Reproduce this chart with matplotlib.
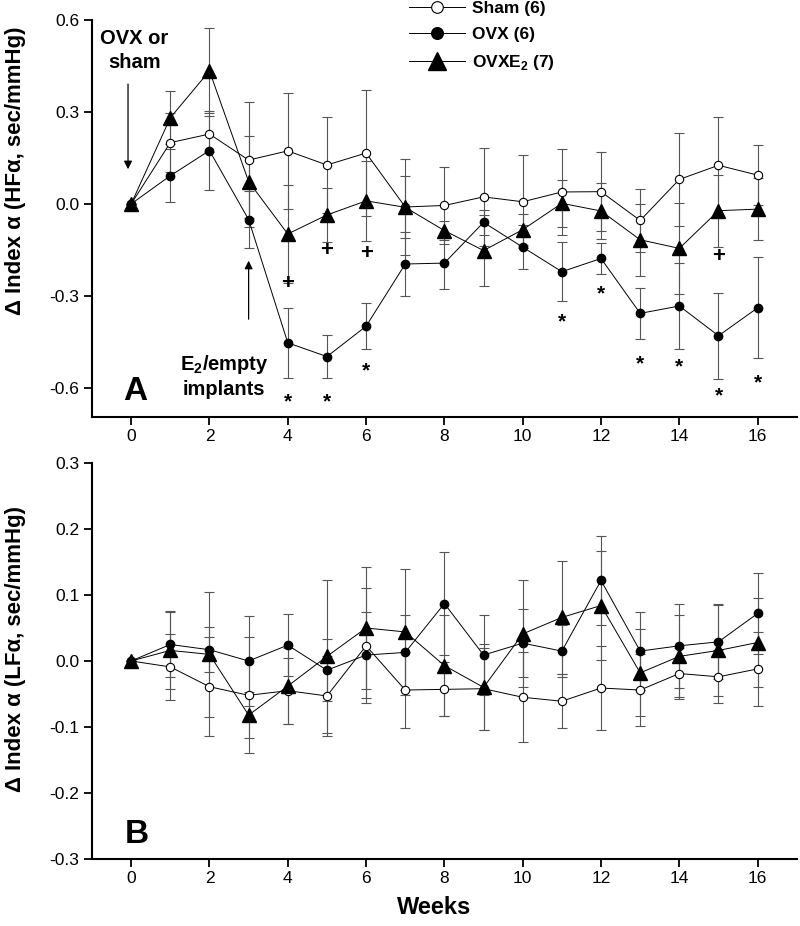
import numpy as np
import matplotlib
matplotlib.use("Agg")
import matplotlib.pyplot as plt

plt.rcParams["font.family"] = ["Liberation Sans", "DejaVu Sans"]
plt.rcParams["axes.unicode_minus"] = False

weeks = np.arange(17)

# panel A: HF alpha
sham_hf = [0, 0.20, 0.228, 0.143, 0.173, 0.127, 0.166, -0.01, -0.005, 0.023, 0.007, 0.039, 0.04, -0.054, 0.08, 0.126, 0.094]
sham_hf_se = [0, 0.095, 0.06, 0.19, 0.19, 0.157, 0.205, 0.1, 0.127, 0.16, 0.152, 0.139, 0.128, 0.104, 0.153, 0.158, 0.098]
ovx_hf = [0, 0.092, 0.174, -0.051, -0.453, -0.498, -0.399, -0.196, -0.193, -0.06, -0.141, -0.221, -0.178, -0.357, -0.333, -0.43, -0.339]
ovx_hf_se = [0, 0.087, 0.13, 0.094, 0.115, 0.07, 0.075, 0.105, 0.083, 0.04, 0.072, 0.097, 0.05, 0.083, 0.14, 0.14, 0.165]
e2_hf = [0, 0.281, 0.434, 0.073, -0.098, -0.036, 0.01, -0.011, -0.087, -0.152, -0.084, 0.002, -0.023, -0.117, -0.145, -0.022, -0.017]
e2_hf_se = [0, 0.086, 0.139, 0.148, 0.16, 0.087, 0.13, 0.156, 0.03, 0.115, 0.05, 0.076, 0.09, 0.118, 0.148, 0.117, 0.1]

# panel B: LF alpha
sham_lf = [0, -0.009, -0.039, -0.052, -0.045, -0.053, 0.023, -0.044, -0.043, -0.042, -0.055, -0.061, -0.041, -0.044, -0.019, -0.024, -0.012]
sham_lf_se = [0, 0.05, 0.075, 0.088, 0.05, 0.06, 0.087, 0.058, 0.041, 0.062, 0.068, 0.041, 0.064, 0.054, 0.039, 0.04, 0.056]
ovx_lf = [0, 0.025, 0.017, 0.0, 0.024, -0.014, 0.009, 0.013, 0.087, 0.009, 0.027, 0.015, 0.122, 0.015, 0.023, 0.029, 0.072]
ovx_lf_se = [0, 0.05, 0.034, 0.068, 0.047, 0.047, 0.065, 0.057, 0.078, 0.06, 0.052, 0.04, 0.067, 0.059, 0.064, 0.057, 0.062]
e2_lf = [0, 0.016, 0.01, -0.082, -0.038, 0.007, 0.05, 0.044, -0.007, -0.04, 0.041, 0.066, 0.084, -0.018, 0.007, 0.016, 0.028]
e2_lf_se = [0, 0.058, 0.095, 0.035, 0.058, 0.116, 0.093, 0.095, 0.077, 0.065, 0.081, 0.086, 0.083, 0.066, 0.062, 0.069, 0.067]

# significance marks in panel A
star_weeks = [4, 5, 6, 11, 12, 13, 14, 15, 16]
star_y = [-0.62, -0.62, -0.52, -0.36, -0.267, -0.496, -0.506, -0.6, -0.558]
plus_weeks = [4, 5, 6, 15]
plus_y = [-0.261, -0.153, -0.163, -0.17]

labels = ["Sham (6)", "OVX (6)", r"OVXE$_\mathregular{2}$ (7)"]

fig = plt.figure(figsize=(8, 9.26), dpi=100)
axA = fig.add_axes([0.115, 0.5497, 0.881, 0.4287])
axB = fig.add_axes([0.115, 0.0724, 0.881, 0.4276])


def draw(ax, sham, sham_se, ovx, ovx_se, e2, e2_se):
    eb = dict(ecolor="#555555", elinewidth=0.8, capsize=3.5, capthick=0.8, zorder=1)
    ax.errorbar(weeks, sham, yerr=sham_se, fmt="none", **eb)
    ax.errorbar(weeks, ovx, yerr=ovx_se, fmt="none", **eb)
    ax.errorbar(weeks, e2, yerr=e2_se, fmt="none", **eb)
    h1, = ax.plot(weeks, sham, "-o", color="black", lw=0.7, ms=6, mfc="white", mec="black", mew=0.8, zorder=3)
    h2, = ax.plot(weeks, ovx, "-o", color="black", lw=0.7, ms=6, mfc="black", mec="black", zorder=4)
    h3, = ax.plot(weeks, e2, "-^", color="black", lw=0.7, ms=9.5, mfc="black", mec="black", zorder=5)
    ax.spines["top"].set_visible(False)
    ax.spines["right"].set_visible(False)
    for s in ["left", "bottom"]:
        ax.spines[s].set_linewidth(1.5)
    ax.tick_params(direction="out", length=6, width=1.3, labelsize=12.5, pad=3)
    ax.set_xlim(-1, 17)
    ax.set_xticks(range(0, 17, 2))
    return [h1, h2, h3]


handles = draw(axA, sham_hf, sham_hf_se, ovx_hf, ovx_hf_se, e2_hf, e2_hf_se)
draw(axB, sham_lf, sham_lf_se, ovx_lf, ovx_lf_se, e2_lf, e2_lf_se)

axA.set_ylim(-0.695, 0.6)
axA.set_yticks([-0.6, -0.3, 0.0, 0.3, 0.6])
axA.set_yticklabels(["-0.6", "-0.3", "0.0", "0.3", "0.6"])
axB.set_ylim(-0.3, 0.3)
axB.set_yticks([-0.3, -0.2, -0.1, 0.0, 0.1, 0.2, 0.3])
axB.set_yticklabels(["-0.3", "-0.2", "-0.1", "0.0", "0.1", "0.2", "0.3"])

axA.set_ylabel("Δ Index α (HFα, sec/mmHg)", fontsize=16, fontweight="bold")
axA.yaxis.set_label_coords(-0.093, 0.62)
axB.set_ylabel("Δ Index α (LFα, sec/mmHg)", fontsize=16, fontweight="bold")
axB.yaxis.set_label_coords(-0.093, 0.53)
fig.text(0.543, 0.008, "Weeks", fontsize=17, fontweight="bold", ha="center", va="bottom")

axA.text(0.061, 0.063, "A", transform=axA.transAxes, fontsize=24, fontweight="bold", ha="center", va="center")
axB.text(0.063, 0.063, "B", transform=axB.transAxes, fontsize=24, fontweight="bold", ha="center", va="center")

for w, y in zip(star_weeks, star_y):
    axA.text(w, y - 0.025, "*", fontsize=15, fontweight="bold", ha="center", va="center")
for w, y in zip(plus_weeks, plus_y):
    axA.text(w, y, "+", fontsize=16, fontweight="bold", ha="center", va="center")

axA.text(0.08, 0.5, "OVX or\nsham", fontsize=14.5, fontweight="bold", ha="center", va="center", linespacing=1.3)
axA.annotate("", xy=(-0.08, 0.104), xytext=(-0.08, 0.4),
             arrowprops=dict(arrowstyle="-|>", color="black", lw=0.9, mutation_scale=12))
axA.text(2.38, -0.562, "E$_\\mathregular{2}$/empty\nimplants", fontsize=14.5, fontweight="bold",
         ha="center", va="center", linespacing=1.3)
axA.annotate("", xy=(3.0, -0.176), xytext=(3.0, -0.385),
             arrowprops=dict(arrowstyle="-|>", color="black", lw=0.9, mutation_scale=12))

axA.legend(handles, labels, loc="upper left", bbox_to_anchor=(0.44, 1.065), frameon=False,
           prop={"weight": "bold", "size": 12.5}, handlelength=3.2, labelspacing=0.62,
           handletextpad=0.4, borderaxespad=0, markerscale=1.4)

fig.savefig("out.png", dpi=100)
